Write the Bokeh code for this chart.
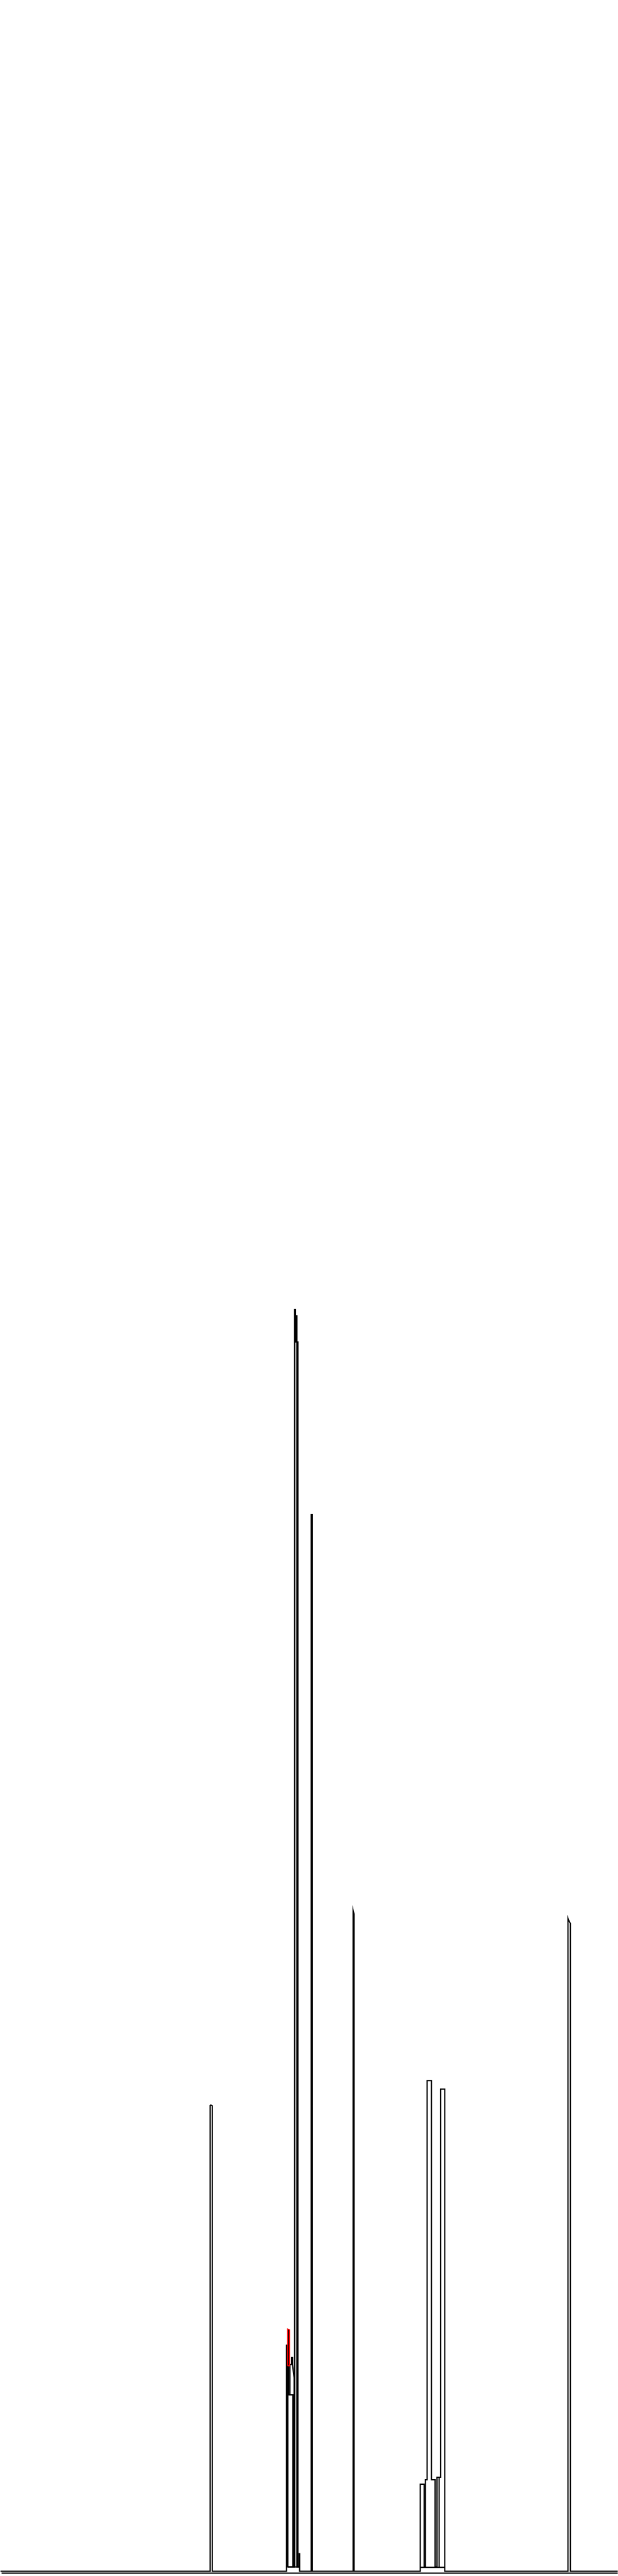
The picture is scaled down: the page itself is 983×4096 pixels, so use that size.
from bokeh.plotting import figure
from bokeh.models import Range1d
from bokeh.embed import file_html
from bokeh.resources import INLINE

# Spectrum trace (shift position, intensity)
main_x = [0, 489.5, 489.5, 491, 494.5, 494.5, 667.5, 667.5, 670.5, 670.5,
          686.5, 686.5, 688.5, 688.5, 690, 690, 691.8, 691.8, 696.5, 696.5,
          698, 698, 725, 725, 727.8, 727.8, 822.8, 822.8, 825, 825,
          979.5, 979.5, 988.5, 988.5, 991.5, 991.5, 995.5, 995.5, 1005.5, 1005.5,
          1014, 1014, 1018.5, 1018.5, 1027, 1027, 1036.5, 1036.5, 1324, 1324,
          1325.5, 1329.5, 1329.5, 1440]
main_h = [0, 0, 1086, 1087, 1085, 0, 0, 527, 527, 10,
          10, 2942, 2942, 2866, 2866, 2927, 2927, 10, 10, 41,
          41, 0, 0, 2464, 2464, 0, 0, 1541, 1532, 0,
          0, 203, 203, 10, 10, 213, 213, 1144, 1144, 213,
          213, 10, 10, 219, 219, 1124, 1124, 0, 0, 1522,
          1518, 1510, 0, 0]

# Overlapping detail traces
detail_x = [[671.8, 671.8, 673, 673, 682.5, 682.5],
            [675.5, 675.5, 679.5, 679.5, 681.5, 681.5, 685.2, 685.2],
            [692, 694, 694],
            [670.5, 697],
            [979.5, 1037],
            [1023.5, 1023.5]]
detail_h = [[411, 562, 562, 411, 411, 10],
            [411, 482, 482, 498, 498, 482, 451, 10],
            [2866, 2866, 10],
            [10, 10],
            [9, 9],
            [219, 9]]

# Second baseline trace
lower_x = [3, 1440]
lower_h = [-4.7, -4.7]

# Highlighted (red) segment
red_x = [670, 670, 674.5, 674.5, 670]
red_h = [479, 565, 563, 479, 479]

assert len(main_x) == len(main_h)
for a, b in zip(detail_x, detail_h):
    assert len(a) == len(b)

p = figure(width=983, height=4096, output_backend="svg", toolbar_location=None,
           x_range=Range1d(0, 1441.35), y_range=Range1d(-11.9, 5994),
           min_border=0, min_border_left=0, min_border_right=0,
           min_border_top=0, min_border_bottom=0)
p.axis.visible = False
p.grid.visible = False
p.outline_line_color = None
p.background_fill_color = "white"
p.border_fill_color = "white"

lw = 2.0
p.line(lower_x, lower_h, line_color="black", line_width=lw)
p.multi_line(detail_x, detail_h, line_color="black", line_width=lw, line_join="miter")
p.line(main_x, main_h, line_color="black", line_width=lw, line_join="miter")
p.line(red_x, red_h, line_color="#ff0000", line_width=1.5, line_join="miter")

open("out.html", "w").write(file_html(p, INLINE))
